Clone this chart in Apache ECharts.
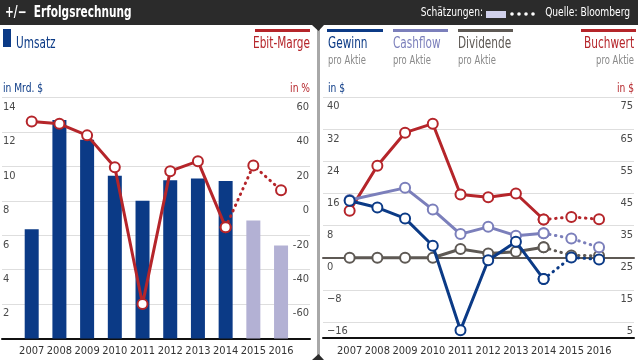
<!DOCTYPE html>
<html><head><meta charset="utf-8">
<script src="https://cdn.jsdelivr.net/npm/echarts@6/dist/echarts.min.js"></script>
<style>html,body{margin:0;padding:0;background:#fff}#c{width:638px;height:360px}</style>
</head><body><div id="c"></div>
<script>
const years = ['2007','2008','2009','2010','2011','2012','2013','2014','2015','2016'];
const firstEstimate = 8; // 2015 and 2016 are estimates
const umsatz = [6.35, 12.7, 11.55, 9.45, 8.0, 9.2, 9.3, 9.15, 6.85, 5.4];
const ebitMarge = [46, 44.7, 38, 19.5, -60, 17.2, 23, -15.4, 20.5, 6.1];
const gewinn = [14.2, 12.5, 9.8, 3.0, -18.0, -0.6, 4.0, -5.3, 0.1, -0.4];
const cashflow = [14.4, null, 17.4, 12.0, 5.9, 7.7, 5.5, 6.1, 4.8, 2.6];
const dividende = [0, 0, 0, 0, 2.2, 1.1, 1.5, 2.6, 0.6, 0.5];
const buchwert = [39.6, 53.6, 63.9, 66.7, 44.7, 43.8, 45.0, 36.9, 37.7, 37.0];
const leftTicksUmsatz = {min: 0, max: 14, interval: 2};
const leftTicksMarge = {min: -80, max: 60, interval: 20};
const rightTicksPerShare = {min: -16, max: 40, interval: 8};
const rightTicksBook = {min: 5, max: 75, interval: 10};
const rightDataRange = {min: -20, max: 40};
const rightBookRange = {min: 0, max: 75};

const FONT = "'Liberation Sans Narrow','DejaVu Sans Condensed','Roboto Condensed',sans-serif";
const C_BLUE = '#0b3a86', C_EST = '#b3b1d4', C_RED = '#b5252a', C_LAV = '#7b7fbb', C_GRAY = '#5e5954';
const GRID_COLOR = '#dedede', LABEL_COLOR = '#4a4a4a';
const SX = 0.78;

const solid = a => a.map((v, i) => i < firstEstimate ? v : null);
const dotted = a => a.map((v, i) => i >= firstEstimate - 1 ? v : null);

function lineSeries(name, data, color, xIdx, yIdx, isDotted, z) {
  return {
    name, type: 'line', xAxisIndex: xIdx, yAxisIndex: yIdx, data,
    connectNulls: true, z: z,
    symbol: 'circle', symbolSize: 10, showAllSymbol: true,
    lineStyle: isDotted ? {color, width: 3, type: [0.5, 5.5], cap: 'round'} : {color, width: 3},
    itemStyle: {color: '#fff', borderColor: color, borderWidth: 2},
    emphasis: {disabled: true}, animation: false
  };
}

const bgY = (t, pos, margin, fmt, hideMin) => ({
  type: 'value', position: pos, min: t.min, max: t.max, interval: t.interval,
  axisLine: {show: false}, axisTick: {show: false},
  splitLine: {show: pos === 'left', lineStyle: {color: GRID_COLOR, width: 1}},
  axisLabel: {inside: true, margin, verticalAlign: 'top', padding: [4, 0, 0, 0], color: LABEL_COLOR,
    fontFamily: FONT, fontSize: 11, showMinLabel: !hideMin, formatter: fmt || (v => String(v))}
});
const hiddenY = (r, gi) => ({type: 'value', gridIndex: gi, min: r.min, max: r.max, show: false, splitLine: {show: false}});

function txt(text, x, y, color, font, align) {
  return {type: 'text', x, y, scaleX: SX,
    style: {text, x: 0, y: 0, fill: color, font: font + ' ' + FONT,
      textAlign: align || 'left', align: align || 'left', textVerticalAlign: 'middle', verticalAlign: 'middle'}};
}

const chart = echarts.init(document.getElementById('c'), null, {renderer: 'canvas'});
const minus = v => String(v).replace('-', '\u2212');
const xLabel = {color: '#333', fontFamily: FONT, fontSize: 11, margin: 7, interval: 0};

chart.setOption({
  animation: false,
  grid: [
    {left: 2, right: 328, top: 97.5, bottom: 21.5},          // 0 left background
    {left: 17.85, right: 343.1, top: 97.5, bottom: 21.5},    // 1 left data
    {left: 323, right: 4, top: 97, bottom: 38},              // 2 right background
    {left: 335.8, right: 25.1, top: 97, bottom: 21.8},       // 3 right data
    {left: 323, right: 4, top: 97, bottom: 21.8}             // 4 right baseline
  ],
  xAxis: [
    {type: 'value', gridIndex: 0, min: 0, max: 1, position: 'bottom',
      axisLine: {show: true, onZero: false, lineStyle: {color: '#111', width: 2}}, axisTick: {show: false}, axisLabel: {show: false}, splitLine: {show: false}},
    {type: 'category', gridIndex: 1, data: years, boundaryGap: true,
      axisLine: {show: false}, axisTick: {show: false}, axisLabel: xLabel},
    {type: 'value', gridIndex: 2, min: 0, max: 1,
      axisLine: {show: true, onZero: true, lineStyle: {color: C_GRAY, width: 2}}, axisTick: {show: false}, axisLabel: {show: false}, splitLine: {show: false}},
    {type: 'category', gridIndex: 3, data: years, boundaryGap: true,
      axisLine: {show: false}, axisTick: {show: false}, axisLabel: xLabel},
    {type: 'value', gridIndex: 4, min: 0, max: 1, position: 'bottom',
      axisLine: {show: true, onZero: false, lineStyle: {color: '#111', width: 2}}, axisTick: {show: false}, axisLabel: {show: false}, splitLine: {show: false}}
  ],
  yAxis: [
    Object.assign(bgY(leftTicksUmsatz, 'left', 1, null, true), {gridIndex: 0}),
    Object.assign(bgY(leftTicksMarge, 'right', 1, null, true), {gridIndex: 0}),
    hiddenY(leftTicksUmsatz, 1),
    hiddenY(leftTicksMarge, 1),
    Object.assign(bgY(rightTicksPerShare, 'left', 4, minus), {gridIndex: 2}),
    Object.assign(bgY(rightTicksBook, 'right', 1), {gridIndex: 2}),
    hiddenY(rightDataRange, 3),
    hiddenY(rightBookRange, 3),
    {type: 'value', gridIndex: 4, min: 0, max: 1, show: false}
  ],
  series: [
    {name: 'Umsatz', type: 'bar', xAxisIndex: 1, yAxisIndex: 2, barWidth: 14, z: 2,
      data: umsatz.map((v, i) => ({value: v, itemStyle: {color: i < firstEstimate ? C_BLUE : C_EST}})),
      emphasis: {disabled: true}},
    lineSeries('Ebit-Marge est', dotted(ebitMarge), C_RED, 1, 3, true, 3),
    lineSeries('Ebit-Marge', solid(ebitMarge), C_RED, 1, 3, false, 4),
    lineSeries('Buchwert est', dotted(buchwert), C_RED, 3, 7, true, 3),
    lineSeries('Buchwert', solid(buchwert), C_RED, 3, 7, false, 4),
    lineSeries('Dividende est', dotted(dividende), C_GRAY, 3, 6, true, 5),
    lineSeries('Dividende', solid(dividende), C_GRAY, 3, 6, false, 6),
    lineSeries('Cashflow est', dotted(cashflow), C_LAV, 3, 6, true, 7),
    lineSeries('Cashflow', solid(cashflow), C_LAV, 3, 6, false, 8),
    lineSeries('Gewinn est', dotted(gewinn), C_BLUE, 3, 6, true, 9),
    lineSeries('Gewinn', solid(gewinn), C_BLUE, 3, 6, false, 10)
  ],
  graphic: [
    {type: 'rect', shape: {x: 0, y: 0, width: 638, height: 25}, style: {fill: '#2b2b2b'}, z: 0},
    {type: 'rect', shape: {x: 317, y: 25, width: 3, height: 335}, style: {fill: '#a8a8a8'}, z: 0},
    {type: 'polygon', shape: {points: [[312, 25], [324, 25], [318.5, 31]]}, style: {fill: '#2b2b2b'}, z: 1},
    {type: 'polygon', shape: {points: [[312, 360], [324, 360], [318.5, 354]]}, style: {fill: '#2b2b2b'}, z: 1},
    txt('+/\u2212  Erfolgsrechnung', 5, 13, '#fff', 'bold 15px'),
    txt('Schätzungen:', 483, 13, '#fff', '13px', 'right'),
    {type: 'rect', shape: {x: 486, y: 11, width: 20, height: 7}, style: {fill: '#d0d0ea'}},
    {type: 'circle', shape: {cx: 512, cy: 14, r: 1.8}, style: {fill: '#fff'}},
    {type: 'circle', shape: {cx: 519, cy: 14, r: 1.8}, style: {fill: '#fff'}},
    {type: 'circle', shape: {cx: 526, cy: 14, r: 1.8}, style: {fill: '#fff'}},
    {type: 'circle', shape: {cx: 533, cy: 14, r: 1.8}, style: {fill: '#fff'}},
    txt('Quelle: Bloomberg', 630, 13, '#fff', '13px', 'right'),
    // left legend
    {type: 'rect', shape: {x: 3, y: 29, width: 8, height: 18}, style: {fill: C_BLUE}},
    txt('Umsatz', 16, 44, C_BLUE, '15px'),
    {type: 'rect', shape: {x: 255, y: 29, width: 55, height: 3}, style: {fill: C_RED}},
    txt('Ebit-Marge', 310, 44, C_RED, '15px', 'right'),
    txt('in Mrd. $', 3, 89, C_BLUE, '13px'),
    txt('in %', 310, 89, C_RED, '13px', 'right'),
    // right legend
    {type: 'rect', shape: {x: 327, y: 29, width: 56, height: 3}, style: {fill: C_BLUE}},
    txt('Gewinn', 328, 44, C_BLUE, '15px'),
    txt('pro Aktie', 328, 61, '#8a8a8a', '12px'),
    {type: 'rect', shape: {x: 393, y: 29, width: 55, height: 3}, style: {fill: C_LAV}},
    txt('Cashflow', 393, 44, C_LAV, '15px'),
    txt('pro Aktie', 393, 61, '#8a8a8a', '12px'),
    {type: 'rect', shape: {x: 458, y: 29, width: 55, height: 3}, style: {fill: C_GRAY}},
    txt('Dividende', 458, 44, C_GRAY, '15px'),
    txt('pro Aktie', 458, 61, '#8a8a8a', '12px'),
    {type: 'rect', shape: {x: 581, y: 29, width: 55, height: 3}, style: {fill: C_RED}},
    txt('Buchwert', 634, 44, C_RED, '15px', 'right'),
    txt('pro Aktie', 634, 61, '#8a8a8a', '12px', 'right'),
    txt('in $', 328, 89, C_BLUE, '13px'),
    txt('in $', 634, 89, C_RED, '13px', 'right')
  ]
});
</script></body></html>
